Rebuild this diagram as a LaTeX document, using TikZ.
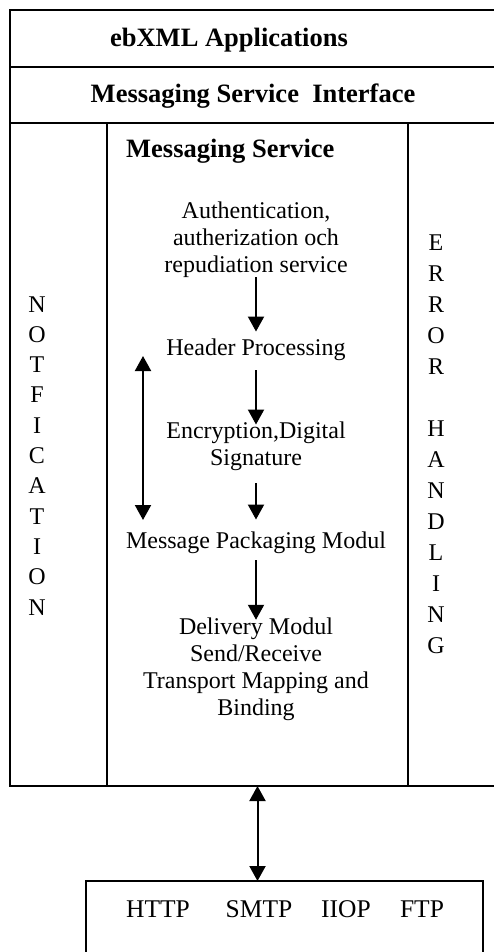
\documentclass[tikz,border=0pt]{standalone}
\usepackage{fontspec}
\setmainfont{Liberation Serif}
\usetikzlibrary{arrows.meta}
\begin{document}
\begin{tikzpicture}[x=1pt,y=-1pt,
  box/.style={draw, line width=1.8pt, rectangle, anchor=north west, inner sep=0pt, outer sep=0pt},
  body/.style={font=\fontsize{24}{27}\selectfont, align=center, inner sep=0pt, anchor=base},
  titletext/.style={font=\fontsize{26.5}{30}\selectfont\bfseries, inner sep=0pt, anchor=base},
  vert/.style={font=\fontsize{24}{30.3}\selectfont, align=center, inner sep=0pt, anchor=base},
  prototext/.style={font=\fontsize{25.5}{28}\selectfont, inner sep=0pt, anchor=base},
  arr/.style={line width=2pt, -{Triangle[length=15pt,width=16pt]}},
  darr/.style={line width=2pt, {Triangle[length=15pt,width=16pt]}-{Triangle[length=15pt,width=16pt]}},
]
\useasboundingbox (0,0) rectangle (493,952);

% boxes
\node[box, minimum width=488pt, minimum height=57pt] (app) at (10,10) {};
\node[box, minimum width=488pt, minimum height=56pt] (iface) at (10,67) {};
\node[box, minimum width=97pt, minimum height=663pt] (ncol) at (10,123) {};
\node[box, minimum width=301pt, minimum height=663pt] (ms) at (107,123) {};
\node[box, minimum width=90pt, minimum height=663pt] (ecol) at (408,123) {};
\node[box, minimum width=397pt, minimum height=90pt] (proto) at (86,881) {};

% titles
\node[titletext] (tapp) at (229,47) {ebXML Applications};
\node[titletext] (tiface) at (253,103) {Messaging Service\ \ Interface};
\node[titletext, anchor=base west] (tms) at (126,158) {Messaging Service};

% body
\node[body] (auth) at (256,272) {Authentication,\\autherization och\\repudiation service};
\node[body] (head) at (256,355) {Header Processing};
\node[body] (enc) at (256,465) {Encryption,Digital\\Signature};
\node[body] (pack) at (256,548) {Message Packaging Modul};
\node[body] (deliv) at (256,715) {Delivery Modul\\Send/Receive\\Transport Mapping and\\Binding};

% side texts
\node[vert] (notif) at (37,615) {N\\O\\T\\F\\I\\C\\A\\T\\I\\O\\N};
\node[vert, font=\fontsize{24}{31}\selectfont] (err) at (436,653) {E\\R\\R\\O\\R\\\mbox{}\\H\\A\\N\\D\\L\\I\\N\\G};

% protocols
\node[prototext] (http) at (158,917) {HTTP};
\node[prototext] (smtp) at (259,917) {SMTP};
\node[prototext] (iiop) at (346,917) {IIOP};
\node[prototext] (ftp) at (422,917) {FTP};

% arrows
\draw[arr] (auth.south) -- ([yshift=6.6pt]head.north);
\draw[arr, shorten <=10pt] (head.south) -- ([yshift=-3.4pt]enc.north);
\draw[arr, shorten <=12.8pt] (enc.south) -- ([yshift=11.6pt]pack.north);
\draw[arr, shorten <=6.8pt] (pack.south) -- ([yshift=-2.6pt]deliv.north);

\coordinate (nt) at (143,356);
\coordinate (nb) at (143,520);
\draw[darr] (nt) -- (nb);

\draw[darr] (ms.south) -- (ms.south |- proto.north);
\end{tikzpicture}
\end{document}
